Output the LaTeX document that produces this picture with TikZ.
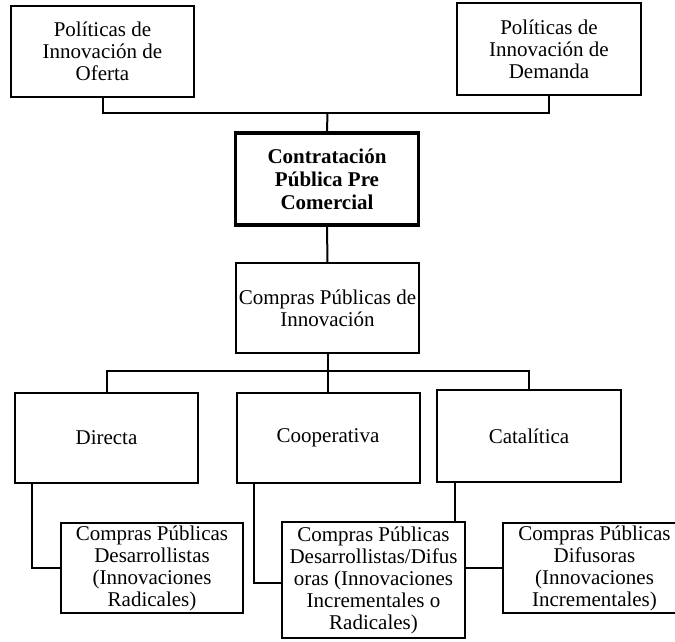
\documentclass[tikz,border=0pt]{standalone}
\usepackage{fontspec}
\setmainfont{Liberation Serif}
\begin{document}
\begin{tikzpicture}[x=1pt,y=-1pt,
  box/.style={draw=black, line width=2pt, rectangle, align=center, inner sep=1pt,
    minimum width=183pt, minimum height=91pt, font=\fontsize{21}{22}\selectfont},
  mainbox/.style={box, line width=3.6pt, font=\fontsize{21}{23}\selectfont\bfseries},
  link/.style={draw=black, line width=2pt}]
\clip (0,0) rectangle (675,641);
\useasboundingbox (0,0) rectangle (675,641);
\fill[white] (0,0) rectangle (675,641);

\node[box] (ofe) at (102.5,51.5) {Políticas de\\Innovación de\\Oferta};
\node[box, minimum width=184pt, minimum height=92pt] (dem) at (549,49) {Políticas de\\Innovación de\\Demanda};
\node[mainbox, minimum height=92pt] (con) at (327,179) {Contratación\\Pública Pre\\Comercial};
\node[box, minimum height=90pt] (cpi) at (327.5,308) {Compras Públicas de\\Innovación};
\node[box, minimum height=90pt] (dir) at (106.5,438) {Directa};
\node[box, minimum height=90pt] (coo) at (328,438) {Cooperativa};
\node[box, minimum width=184pt, minimum height=92pt] (cat) at (529,436) {Catalítica};
\node[box, minimum width=182pt, minimum height=90pt] (des) at (152,568) {Compras Públicas\\Desarrollistas\\(Innovaciones\\Radicales)};
\node[box, minimum height=116pt] (mid) at (373.5,580) {Compras Públicas\\Desarrollistas/Difus\\oras (Innovaciones\\Incrementales o\\Radicales)};
\node[box, minimum height=90pt] (dif) at (594.5,568) {Compras Públicas\\Difusoras\\(Innovaciones\\Incrementales)};

\coordinate (join) at (327.5,113);
\coordinate (br) at (327.5,371);

\draw[link] (ofe.south) |- (join) -| (dem.south);
\draw[link] (join) -- (con.north);
\draw[link] (con.south) -- (cpi.north);
\draw[link] (cpi.south) -- (br);
\draw[link] (dir.north) |- (br) -| (cat.north);
\draw[link] (br) -- (br |- coo.north);
\draw[link] ([xshift=18pt]dir.south west) |- (des.west);
\draw[link] ([xshift=18pt]coo.south west) |- ([yshift=-3pt]mid.west);
\draw[link] ([xshift=19pt]cat.south west) coordinate (c1) -- (c1 |- mid.north);
\draw[link] (dif.west) -- (dif.west -| mid.east);
\end{tikzpicture}
\end{document}
